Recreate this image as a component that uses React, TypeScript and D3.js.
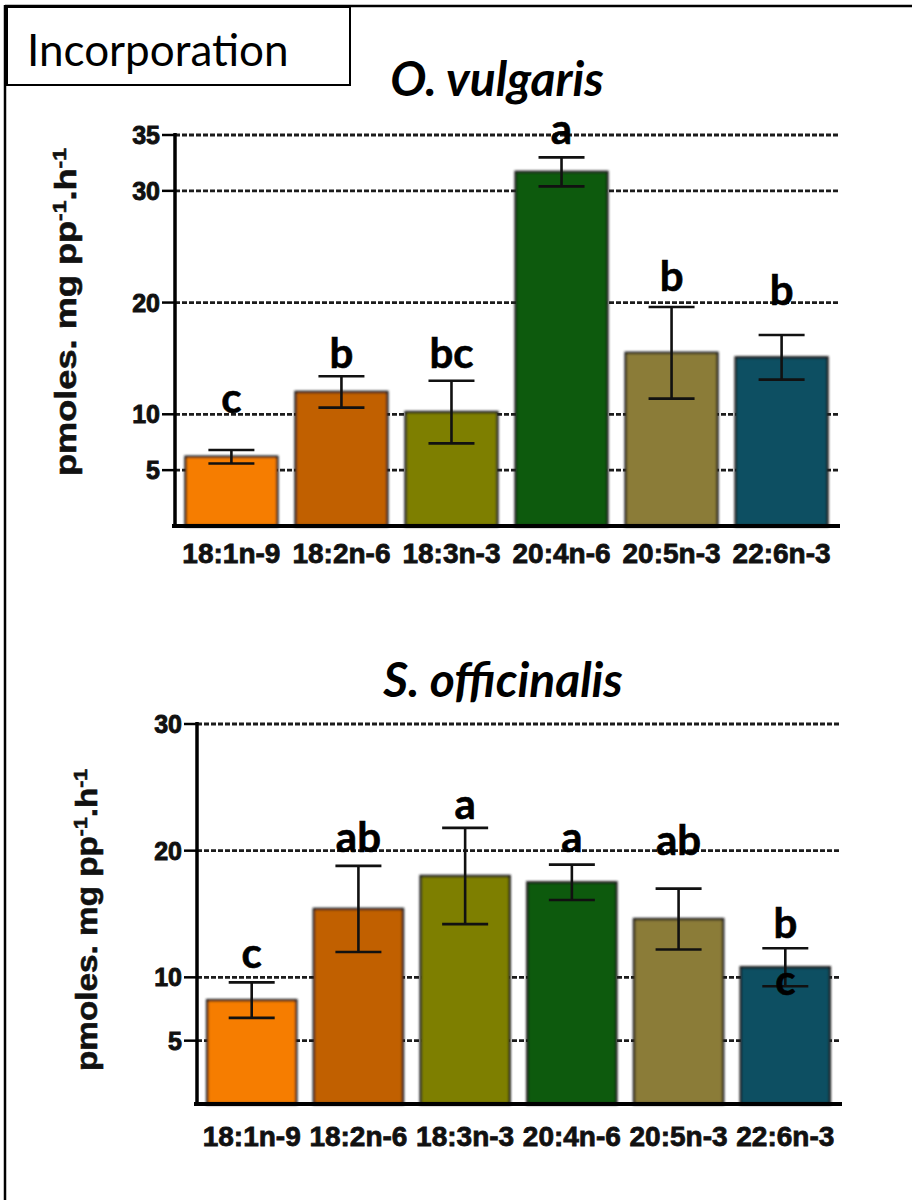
import React from 'react';
import * as d3 from 'd3';

const fattyAcids = ['18:1n-9', '18:2n-6', '18:3n-3', '20:4n-6', '20:5n-3', '22:6n-3'];
const barColors = ['#f67d00', '#c16102', '#7e7f02', '#0c5a08', '#8b7c39', '#074f62'];

// O. vulgaris
const vulgarisMean = [6.2, 12.0, 10.2, 31.7, 15.5, 15.1];
const vulgarisErr = [0.6, 1.4, 2.8, 1.3, 4.1, 2.0];
const vulgarisLetters = [['c'], ['b'], ['bc'], ['a'], ['b'], ['b']];
const vulgarisLetterLevel = [[10.1], [14.1], [14.1], [34.2], [21.0], [19.8]];
const vulgarisTicks = [5, 10, 20, 30, 35];

// S. officinalis
const officinalisMean = [8.2, 15.4, 18.0, 17.5, 14.6, 10.8];
const officinalisErr = [1.4, 3.4, 3.8, 1.4, 2.4, 1.5];
const officinalisLetters = [['c'], ['ab'], ['a'], ['a'], ['ab'], ['b', 'c']];
const officinalisLetterLevel = [[10.7], [19.9], [22.5], [19.9], [19.65], [13.1, 8.6]];
const officinalisTicks = [5, 10, 20, 30];

interface PanelProps {
  title: string;
  titleX: number;
  titleY: number;
  means: number[];
  errs: number[];
  letters: string[][];
  letterLevels: number[][];
  ticks: number[];
  yMax: number;
  x0: number;
  x1: number;
  yBottom: number;
  yTop: number;
  labelX: number;
  labelY: number;
  labelLen: number;
  xLabelY: number;
}

const Panel: React.FC<PanelProps> = (p) => {
  const x = d3.scaleBand<string>().domain(fattyAcids).range([p.x0, p.x1]).paddingInner(0.165).paddingOuter(0.095);
  const y = d3.scaleLinear().domain([0, p.yMax]).range([p.yBottom, p.yTop]);
  const bw = x.bandwidth();
  const capW = 46;

  return (
    <g>
      <text x={p.titleX} y={p.titleY} textAnchor="middle" fontFamily="Lato, 'Open Sans', sans-serif"
        fontStyle="italic" fontWeight="bold" fontSize={48}>{p.title}</text>

      {/* dashed grid */}
      {p.ticks.map(t => (
        <line key={'g' + t} x1={p.x0} x2={p.x1} y1={y(t)} y2={y(t)} stroke="#1c1c1c"
          strokeWidth={2.8} strokeDasharray="5 2" />
      ))}

      {/* bars */}
      {fattyAcids.map((c, i) => (
        <rect key={c} x={x(c)} y={y(p.means[i])} width={bw} height={y(0) - y(p.means[i])}
          fill={barColors[i]} stroke="#1a1a1a" strokeWidth={2.4} filter="url(#soft)" />
      ))}

      {/* error bars */}
      {fattyAcids.map((c, i) => {
        const cx = (x(c) as number) + bw / 2;
        const hi = y(p.means[i] + p.errs[i]);
        const lo = y(p.means[i] - p.errs[i]);
        return (
          <g key={'e' + c} stroke="#111" strokeWidth={2.6}>
            <line x1={cx} x2={cx} y1={hi} y2={lo} />
            <line x1={cx - capW / 2} x2={cx + capW / 2} y1={hi} y2={hi} />
            <line x1={cx - capW / 2} x2={cx + capW / 2} y1={lo} y2={lo} />
          </g>
        );
      })}

      {/* significance letters */}
      {fattyAcids.map((c, i) =>
        p.letters[i].map((l, j) => (
          <text key={'l' + c + j} x={(x(c) as number) + bw / 2} y={y(p.letterLevels[i][j])} textAnchor="middle"
            fontFamily="Lato, 'Open Sans', sans-serif" fontWeight="bold" fontSize={42} fill="#000"
            stroke="#000" strokeWidth={0.6}>{l}</text>
        ))
      )}

      {/* axes */}
      <line x1={p.x0} x2={p.x0} y1={p.yTop - 2} y2={p.yBottom + 2} stroke="#000" strokeWidth={3.5} />
      <line x1={p.x0 - 3} x2={p.x1 + 2} y1={p.yBottom} y2={p.yBottom} stroke="#000" strokeWidth={4} />
      {p.ticks.map(t => (
        <g key={'t' + t}>
          <line x1={p.x0 - 13} x2={p.x0} y1={y(t)} y2={y(t)} stroke="#000" strokeWidth={2.5} />
          <text x={p.x0 - 15} y={y(t)} dy="0.36em" textAnchor="end" fontFamily="'Liberation Sans', Arial, sans-serif"
            fontWeight="bold" fontSize={25} fill="#111" stroke="#111" strokeWidth={0.9}>{t}</text>
        </g>
      ))}
      {fattyAcids.map(c => (
        <text key={'x' + c} x={(x(c) as number) + bw / 2} y={p.xLabelY} textAnchor="middle"
          fontFamily="'Liberation Sans Narrow', 'Liberation Sans', Arial, sans-serif" fontWeight="bold"
          fontSize={28} fill="#111" stroke="#111" strokeWidth={0.8}>{c}</text>
      ))}

      {/* y label */}
      <text transform={`translate(${p.labelX},${p.labelY}) rotate(-90)`} textAnchor="middle"
        fontFamily="'Liberation Sans', Arial, sans-serif" fontWeight="bold" fontSize={30} fill="#111"
        stroke="#111" strokeWidth={0.6} textLength={p.labelLen} lengthAdjust="spacingAndGlyphs">
        pmoles. mg pp<tspan baselineShift="super" fontSize={19}>-1</tspan>.h<tspan baselineShift="super" fontSize={19}>-1</tspan>
      </text>
    </g>
  );
};

export default function App() {
  return (
    <svg width={912} height={1200} style={{ position: 'absolute', left: 0, top: 0, background: '#fff' }}>
      <defs>
        <filter id="soft" x="-5%" y="-5%" width="110%" height="110%">
          <feGaussianBlur in="SourceGraphic" stdDeviation="0.8" />
        </filter>
      </defs>
      <rect x={0} y={0} width={912} height={1200} fill="#fff" />
      {/* outer frame */}
      <line x1={5} x2={912} y1={6} y2={6} stroke="#000" strokeWidth={2.5} />
      <line x1={5} x2={5} y1={5} y2={1200} stroke="#000" strokeWidth={2.5} />
      <rect x={7} y={7} width={343} height={78} fill="#fff" stroke="#000" strokeWidth={2} />
      <text x={27} y={66} fontFamily="Lato, 'Open Sans', sans-serif" fontSize={44} fill="#000">Incorporation</text>

      <Panel title="O. vulgaris" titleX={497} titleY={96} means={vulgarisMean} errs={vulgarisErr}
        letters={vulgarisLetters} letterLevels={vulgarisLetterLevel} ticks={vulgarisTicks} yMax={35}
        x0={175} x1={838} yBottom={526} yTop={135} labelX={76} labelY={312} labelLen={328} xLabelY={563} />
      <Panel title="S. officinalis" titleX={503} titleY={697} means={officinalisMean} errs={officinalisErr}
        letters={officinalisLetters} letterLevels={officinalisLetterLevel} ticks={officinalisTicks} yMax={30}
        x0={197} x1={840} yBottom={1104} yTop={724} labelX={97} labelY={920} labelLen={302} xLabelY={1146} />
    </svg>
  );
}
